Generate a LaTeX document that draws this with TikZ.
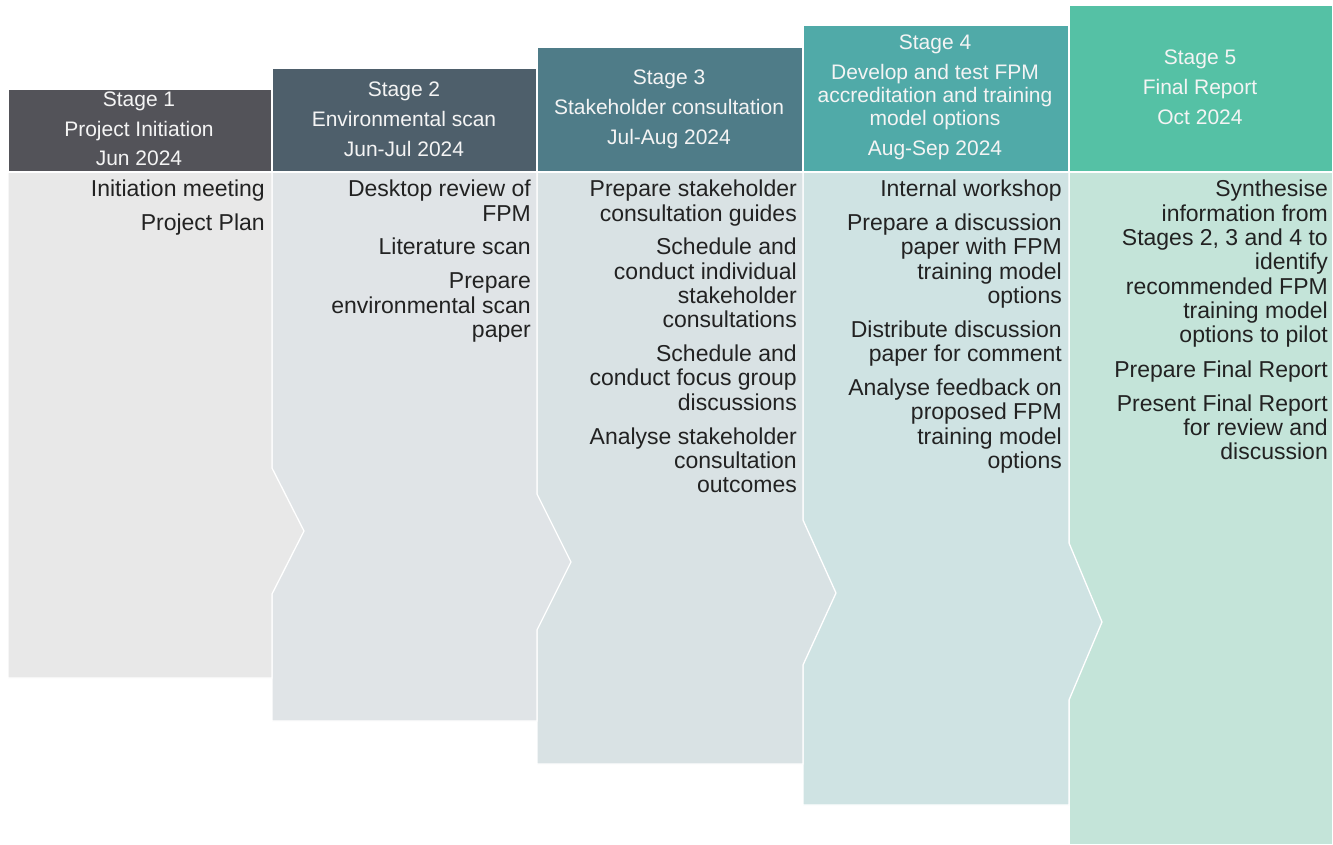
\documentclass[tikz,border=0pt]{standalone}
\usepackage{fontspec}
\setmainfont{Liberation Sans}
\definecolor{hA}{HTML}{535359}
\definecolor{hB}{HTML}{4E5F6B}
\definecolor{hC}{HTML}{4F7C88}
\definecolor{hD}{HTML}{50AAA8}
\definecolor{hE}{HTML}{55C1A5}
\definecolor{bA}{HTML}{E8E8E8}
\definecolor{bB}{HTML}{E0E4E7}
\definecolor{bC}{HTML}{D9E2E4}
\definecolor{bD}{HTML}{CFE3E3}
\definecolor{bE}{HTML}{C4E4D9}
\definecolor{txt}{HTML}{222222}
\definecolor{htxt}{HTML}{F4F4F4}
\tikzset{
  panel/.style={draw=white, line width=1.3pt, line join=miter},
  headtext/.style={align=center, text=htxt, inner sep=0pt, font=\fontsize{21}{23}\selectfont},
  bodytext/.style={align=right, text=txt, inner sep=0pt, anchor=north east, font=\fontsize{23}{24.3}\selectfont},
}
\begin{document}
\begin{tikzpicture}[x=1pt,y=-1pt]
\useasboundingbox (0,0) rectangle (1333,845);
\fill[white] (0,0) rectangle (1333,845);
% bodies (drawn right to left so chevrons overlay)
\filldraw[panel, fill=bE] (1069,172) -- (1333,172) -- (1333,845) -- (1069,845) -- cycle;
\filldraw[panel, fill=bD] (803,172) -- (1069,172) -- (1069,543) -- (1102,622) -- (1069,700) -- (1069,805) -- (803,805) -- cycle;
\filldraw[panel, fill=bC] (537,172) -- (803,172) -- (803,520) -- (836,593) -- (803,665) -- (803,764) -- (537,764) -- cycle;
\filldraw[panel, fill=bB] (272,172) -- (537,172) -- (537,494) -- (571,562) -- (537,630) -- (537,721) -- (272,721) -- cycle;
\filldraw[panel, fill=bA] (8,172) -- (272,172) -- (272,468) -- (304,531) -- (272,594) -- (272,678) -- (8,678) -- cycle;
% headers
\filldraw[panel, fill=hA] (8,89) rectangle (272,172);
\filldraw[panel, fill=hB] (272,68) rectangle (537,172);
\filldraw[panel, fill=hC] (537,47) rectangle (803,172);
\filldraw[panel, fill=hD] (803,25) rectangle (1069,172);
\filldraw[panel, fill=hE] (1069,5) rectangle (1333,172);
% header texts
\node[headtext] (t1) at (139,129) {Stage 1\\[6.5pt]Project Initiation\\[6.5pt]Jun 2024};
\node[headtext] (t2) at (404,119) {Stage 2\\[7pt]Environmental scan\\[7pt]Jun-Jul 2024};
\node[headtext] (t3) at (669,109) {Stage 3\\[7pt]Stakeholder consultation\\[7pt]Jul-Aug 2024};
\node[headtext] (t4) at (935,97) {Stage 4\\[7pt]Develop and test FPM\\accreditation and training\\model options\\[7pt]Aug-Sep 2024};
\node[headtext] (t5) at (1200,87) {Stage 5\\[7pt]Final Report\\[7pt]Oct 2024};
% body texts
\node[bodytext] (c1) at (265,180) {Initiation meeting\\[9pt]Project Plan};
\node[bodytext] (c2) at (531,180) {Desktop review of\\FPM\\[9.5pt]Literature scan\\[9.5pt]Prepare\\environmental scan\\paper};
\node[bodytext] (c3) at (797,180) {Prepare stakeholder\\consultation guides\\[9.5pt]Schedule and\\conduct individual\\stakeholder\\consultations\\[9.5pt]Schedule and\\conduct focus group\\discussions\\[9.5pt]Analyse stakeholder\\consultation\\outcomes};
\node[bodytext] (c4) at (1062,180) {Internal workshop\\[9.5pt]Prepare a discussion\\paper with FPM\\training model\\options\\[9.5pt]Distribute discussion\\paper for comment\\[9.5pt]Analyse feedback on\\proposed FPM\\training model\\options};
\node[bodytext] (c5) at (1328,180) {Synthesise\\information from\\Stages 2, 3 and 4 to\\identify\\recommended FPM\\training model\\options to pilot\\[10.5pt]Prepare Final Report\\[9.5pt]Present Final Report\\for review and\\discussion};
\end{tikzpicture}
\end{document}
